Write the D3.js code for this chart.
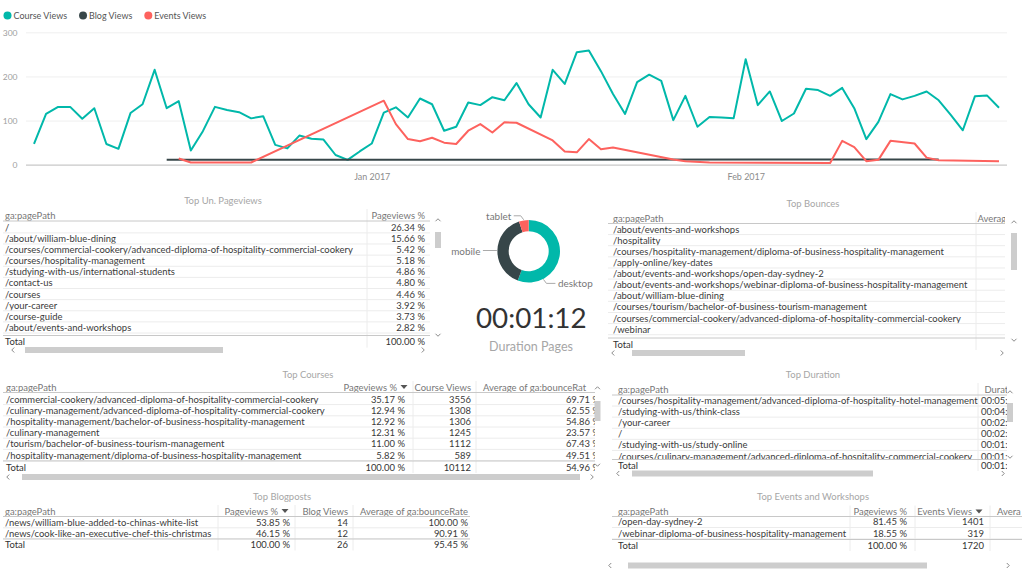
<!DOCTYPE html>
<html><head><meta charset="utf-8">
<script src="https://cdn.jsdelivr.net/npm/d3@7"></script>
<style>
html,body{margin:0;padding:0;background:#fff;overflow:hidden;}
svg{display:block;}
</style></head>
<body><svg id="c" width="1024" height="576"></svg>
<script>
// ---------------- DATA ----------------
const seriesNames = ["Course Views", "Blog Views", "Events Views"];
const seriesColors = ["#01B8AA", "#374649", "#FD625E"];
const startDate = "2016-12-04";
const courseViews = [47,115,131,131,104,128,47,36,117,137,215,128,144,32,76,131,124,119,105,110,45,37,66,59,57,22,11,
  30,
  48,118,130,107,150,137,77,86,141,135,153,146,185,137,107,215,183,255,259,212,160,115,187,204,190,101,156,
  86,108,107,105,239,135,166,99,116,172,169,156,174,128,58,97,160,148,156,166,146,113,78,155,157,129];
const blogViews = [["2016-12-15", 11], ["2017-02-17", 12]];
const eventsViews = [["2016-12-16",14],["2016-12-17",5],["2016-12-22",5],["2017-01-02",145],["2017-01-03",92],
  ["2017-01-04",58],["2017-01-05",53],["2017-01-06",61],["2017-01-07",50],["2017-01-08",47],["2017-01-09",77],
  ["2017-01-10",92],["2017-01-11",73],["2017-01-12",96],["2017-01-13",95],["2017-01-16",55],["2017-01-17",30],
  ["2017-01-18",28],["2017-01-19",58],["2017-01-20",35],["2017-01-21",39],["2017-01-26",12],["2017-01-27",8],
  ["2017-01-29",5],["2017-02-08",4],["2017-02-09",54],["2017-02-10",40],["2017-02-11",8],["2017-02-12",11],
  ["2017-02-13",54],["2017-02-15",48],["2017-02-16",16],["2017-02-17",10],["2017-02-22",8]];
const yTicks = [0, 100, 200, 300];
const xTickDates = ["2017-01-01", "2017-02-01"];

const deviceLabels = ["desktop", "mobile", "tablet"];
const deviceShare = [55.7, 39.3, 5.0];
const durationCard = "00:01:12";
const durationCardLabel = "Duration Pages";

const unPaths = ["/", "/about/william-blue-dining",
  "/courses/commercial-cookery/advanced-diploma-of-hospitality-commercial-cookery",
  "/courses/hospitality-management", "/studying-with-us/international-students", "/contact-us",
  "/courses", "/your-career", "/course-guide", "/about/events-and-workshops"];
const unPct = [26.34, 15.66, 5.42, 5.18, 4.86, 4.80, 4.46, 3.92, 3.73, 2.82];
const unTotal = 100.00;

const bouncePaths = ["/about/events-and-workshops", "/hospitality",
  "/courses/hospitality-management/diploma-of-business-hospitality-management",
  "/apply-online/key-dates", "/about/events-and-workshops/open-day-sydney-2",
  "/about/events-and-workshops/webinar-diploma-of-business-hospitality-management",
  "/about/william-blue-dining", "/courses/tourism/bachelor-of-business-tourism-management",
  "/courses/commercial-cookery/advanced-diploma-of-hospitality-commercial-cookery", "/webinar"];

const coursePaths = ["/commercial-cookery/advanced-diploma-of-hospitality-commercial-cookery",
  "/culinary-management/advanced-diploma-of-hospitality-commercial-cookery",
  "/hospitality-management/bachelor-of-business-hospitality-management",
  "/culinary-management", "/tourism/bachelor-of-business-tourism-management",
  "/hospitality-management/diploma-of-business-hospitality-management"];
const coursePct = [35.17, 12.94, 12.92, 12.31, 11.00, 5.82];
const courseViewsCol = [3556, 1308, 1306, 1245, 1112, 589];
const courseBounce = [69.71, 62.55, 54.86, 23.57, 67.43, 49.51];
const courseTotals = [100.00, 10112, 54.96];

const durationPaths = ["/courses/hospitality-management/advanced-diploma-of-hospitality-hotel-management",
  "/studying-with-us/think-class", "/your-career", "/", "/studying-with-us/study-online",
  "/courses/culinary-management/advanced-diploma-of-hospitality-commercial-cookery"];
const durationVals = ["00:05:", "00:04:", "00:02:", "00:02:", "00:01:", "00:01:"];
const durationTotal = "00:01:";

const blogPaths = ["/news/william-blue-added-to-chinas-white-list", "/news/cook-like-an-executive-chef-this-christmas"];
const blogPct = [53.85, 46.15];
const blogViewsCol = [14, 12];
const blogBounce = [100.00, 90.91];
const blogTotals = [100.00, 26, 95.45];

const eventPaths = ["/open-day-sydney-2", "/webinar-diploma-of-business-hospitality-management"];
const eventPct = [81.45, 18.55];
const eventViewsCol = [1401, 319];
const eventTotals = [100.00, 1720];

// ---------------- SETUP ----------------
const svg = d3.select("#c");
const FF = "'Segoe UI', Lato, 'Open Sans', sans-serif";
svg.attr("font-family", FF);
function measure(txt, size) {
  const t = svg.append("text").attr("font-size", size).text(txt);
  const w = t.node().getComputedTextLength(); t.remove(); return w;
}
const K = 348 / measure("/courses/commercial-cookery/advanced-diploma-of-hospitality-commercial-cookery", 10);
const fs = n => n * K;
const pct = v => d3.format(".2f")(v) + " %";

// ---------------- LINE CHART ----------------
const parse = d3.timeParse("%Y-%m-%d");
const d0 = parse(startDate);
const courseData = courseViews.map((v, i) => ({date: d3.timeDay.offset(d0, i), v}));
const blogData = blogViews.map(([d, v]) => ({date: parse(d), v}));
const eventsData = eventsViews.map(([d, v]) => ({date: parse(d), v}));

const x = d3.scaleTime().domain([d0, d3.timeDay.offset(d0, courseViews.length - 1)]).range([34, 999]);
const y = d3.scaleLinear().domain([0, 300]).range([164.7, 32.3]);

const gy = svg.append("g").attr("transform", "translate(26,0)")
  .call(d3.axisLeft(y).tickValues(yTicks).tickSize(-(1007 - 26)).tickPadding(8.5));
gy.select(".domain").remove();
gy.selectAll(".tick line").attr("stroke", d => d === 0 ? "#c8c8c8" : "#efefef").attr("stroke-width", d => d === 0 ? 1.2 : 1);
gy.selectAll(".tick text").attr("fill", "#a0a0a0").attr("font-size", fs(9)).attr("font-family", FF);

const gx = svg.append("g").attr("transform", "translate(0,165)")
  .call(d3.axisBottom(x).tickValues(xTickDates.map(parse)).tickFormat(d3.timeFormat("%b %Y")).tickSize(0).tickPadding(9));
gx.select(".domain").remove();
gx.selectAll(".tick text").attr("fill", "#8c8c8c").attr("font-size", fs(9.5)).attr("font-family", FF);

const line = d3.line().x(d => x(d.date)).y(d => y(d.v));
[courseData, blogData, eventsData].forEach((data, i) => {
  svg.append("path").datum(data).attr("d", line).attr("fill", "none")
    .attr("stroke", seriesColors[i]).attr("stroke-width", 2).attr("stroke-linejoin", "round");
});

// legend
let lx = 7.5;
seriesNames.forEach((n, i) => {
  svg.append("circle").attr("cx", lx).attr("cy", 15.5).attr("r", 4).attr("fill", seriesColors[i]);
  const t = svg.append("text").attr("x", lx + 6).attr("y", 15.5).attr("dominant-baseline", "central")
    .attr("font-size", fs(9.5)).attr("fill", "#555").text(n);
  lx = lx + 6 + t.node().getComputedTextLength() + 16;
});

// ---------------- DONUT ----------------
const cx = 528.7, cy = 251.2, R = 31.3, r0 = 20;
const pie = d3.pie().sort(null).value(d => d)(deviceShare);
const arc = d3.arc().innerRadius(r0).outerRadius(R);
const gd = svg.append("g").attr("transform", `translate(${cx},${cy})`);
gd.selectAll("path").data(pie).join("path").attr("d", arc).attr("fill", (d, i) => seriesColors[i]);
const pt = (a, rr) => [Math.sin(a) * rr, -Math.cos(a) * rr];
const labelSpec = [
  {a: pie[0].startAngle + (pie[0].endAngle - pie[0].startAngle) * 0.76, dx: 12, dy: 4, anchor: "start"},
  {a: (pie[1].startAngle + pie[1].endAngle) / 2, dx: -14, dy: 0, anchor: "end"},
  {a: (pie[2].startAngle + pie[2].endAngle) / 2, dx: -10, dy: -4, anchor: "end"}
];
labelSpec.forEach((s, i) => {
  const p0 = pt(s.a, R + 0.5);
  const p1 = [p0[0] + (s.dy === 0 ? 0 : Math.sign(s.dx) * 3), p0[1] + s.dy];
  const p2 = [p1[0] + s.dx - Math.sign(s.dx) * (s.dy === 0 ? 0 : 3), p1[1]];
  gd.append("polyline").attr("points", [p0, p1, p2].map(p => p.join(",")).join(" "))
    .attr("fill", "none").attr("stroke", "#aaa").attr("stroke-width", 1);
  gd.append("text").attr("x", p2[0] + Math.sign(s.dx) * 2.5).attr("y", p2[1]).attr("text-anchor", s.anchor)
    .attr("dominant-baseline", "central").attr("font-size", fs(10.5)).attr("fill", "#777").text(deviceLabels[i]);
});

// card
const cardT = svg.append("text").attr("x", 531.3).attr("y", 327.7).attr("text-anchor", "middle")
  .attr("fill", "#333").text(durationCard);
cardT.attr("font-size", 28 * 110.7 / measure(durationCard, 28));
const cardL = svg.append("text").attr("x", 531).attr("y", 350.5).attr("text-anchor", "middle")
  .attr("fill", "#a6a6a6").text(durationCardLabel);
cardL.attr("font-size", 12 * 84 / measure(durationCardLabel, 12));

// ---------------- TABLES ----------------
let clipN = 0;
function clipRect(x0, y0, x1, y1) {
  const id = "clp" + (clipN++);
  svg.append("clipPath").attr("id", id).append("rect").attr("x", x0).attr("y", y0).attr("width", x1 - x0).attr("height", y1 - y0);
  return `url(#${id})`;
}
function chevron(g, x, y, dir) {
  const s = 2.5;
  let p;
  if (dir === "up") p = [[x - s, y + s / 2], [x, y - s / 2], [x + s, y + s / 2]];
  if (dir === "down") p = [[x - s, y - s / 2], [x, y + s / 2], [x + s, y - s / 2]];
  if (dir === "left") p = [[x + s / 2, y - s], [x - s / 2, y], [x + s / 2, y + s]];
  if (dir === "right") p = [[x - s / 2, y - s], [x + s / 2, y], [x - s / 2, y + s]];
  g.append("polyline").attr("points", p.map(q => q.join(",")).join(" ")).attr("fill", "none")
    .attr("stroke", "#8a8a8a").attr("stroke-width", 1);
}
function drawTable(t) {
  const g = svg.append("g");
  g.append("text").attr("x", t.titleX).attr("y", t.titleY).attr("text-anchor", "middle").attr("dominant-baseline", "central")
    .attr("font-size", fs(10)).attr("fill", "#a6a6a6").text(t.title);
  const inner = g.append("g").attr("clip-path", clipRect(t.left, t.headerY - 8, t.right, t.totalY + 8));
  t.seps.forEach(sx => inner.append("line").attr("x1", sx).attr("x2", sx).attr("y1", t.headerY - 6).attr("y2", t.totalY + 6)
    .attr("stroke", "#ececec"));
  t.cols.forEach(c => {
    inner.append("text").attr("x", c.x).attr("y", t.headerY).attr("text-anchor", c.anchor)
      .attr("dominant-baseline", "central").attr("font-size", fs(10)).attr("fill", "#777").text(c.label);
    if (c.sort) {
      const tx2 = c.x + 7;
      inner.append("path").attr("d", `M${tx2 - 3.5},${t.headerY - 2} L${tx2 + 3.5},${t.headerY - 2} L${tx2},${t.headerY + 2} Z`).attr("fill", "#555");
    }
  });
  inner.append("line").attr("x1", t.left).attr("x2", t.right).attr("y1", t.headerLine).attr("y2", t.headerLine).attr("stroke", "#c8c8c8");
  const rowsG = inner.append("g").attr("clip-path", clipRect(t.left, t.headerLine, t.right, t.totalLine));
  const vxOf = c => c.vx !== undefined ? c.vx : c.x;
  const vaOf = c => c.va || c.anchor;
  t.rows.forEach((r, i) => {
    const yy = t.rowY0 + i * t.rowH;
    r.forEach((v, j) => {
      const c = t.cols[j];
      rowsG.append("text").attr("x", vxOf(c)).attr("y", yy).attr("text-anchor", vaOf(c))
        .attr("dominant-baseline", "central").attr("font-size", fs(10)).attr("fill", "#3a3a3a").text(v);
    });
    rowsG.append("line").attr("x1", t.left).attr("x2", t.right).attr("y1", yy + t.rowH / 2).attr("y2", yy + t.rowH / 2).attr("stroke", "#ececec");
  });
  inner.append("line").attr("x1", t.left).attr("x2", t.right).attr("y1", t.totalLine).attr("y2", t.totalLine).attr("stroke", "#c8c8c8");
  t.total.forEach((v, j) => {
    const c = t.cols[j];
    inner.append("text").attr("x", vxOf(c)).attr("y", t.totalY).attr("text-anchor", vaOf(c))
      .attr("dominant-baseline", "central").attr("font-size", fs(10)).attr("fill", "#333").text(v);
  });
  if (t.vs) {
    chevron(g, t.vs.x, t.vs.up, "up"); chevron(g, t.vs.x, t.vs.down, "down");
    g.append("rect").attr("x", t.vs.x - 3).attr("y", t.vs.t0).attr("width", 6).attr("height", t.vs.t1 - t.vs.t0).attr("fill", "#cdcdcd");
  }
  if (t.hs) {
    chevron(g, t.hs.l, t.hs.y, "left"); chevron(g, t.hs.r, t.hs.y, "right");
    g.append("rect").attr("x", t.hs.t0).attr("y", t.hs.y - 3).attr("width", t.hs.t1 - t.hs.t0).attr("height", 6).attr("fill", "#cdcdcd");
  }
}

drawTable({
  title: "Top Un. Pageviews", titleX: 223, titleY: 200,
  left: 3, right: 430, headerY: 215, headerLine: 221, rowY0: 227.3, rowH: 11.13, totalLine: 335.5, totalY: 341.7,
  cols: [{label: "ga:pagePath", x: 5, anchor: "start"}, {label: "Pageviews %", x: 425, anchor: "end"}],
  seps: [367],
  rows: d3.zip(unPaths, unPct.map(pct)),
  total: ["Total", pct(unTotal)],
  vs: {x: 438, up: 220, down: 335, t0: 232, t1: 248},
  hs: {y: 350, l: 13, r: 423, t0: 25, t1: 223}
});

drawTable({
  title: "Top Bounces", titleX: 813, titleY: 203,
  left: 608, right: 1005, headerY: 218, headerLine: 223.5, rowY0: 229, rowH: 11.13, totalLine: 338, totalY: 344,
  cols: [{label: "ga:pagePath", x: 613, anchor: "start"}, {label: "Averag", x: 977.5, anchor: "start"}],
  seps: [976],
  rows: bouncePaths.map(p => [p]),
  total: ["Total"],
  vs: {x: 1014, up: 222, down: 340, t0: 233, t1: 270},
  hs: {y: 353, l: 613, r: 1002, t0: 632, t1: 745}
});

drawTable({
  title: "Top Courses", titleX: 308, titleY: 374,
  left: 3, right: 595, headerY: 387, headerLine: 392.5, rowY0: 399, rowH: 11.2, totalLine: 461, totalY: 467,
  cols: [{label: "ga:pagePath", x: 6, anchor: "start"},
         {label: "Pageviews %", x: 397, vx: 405, anchor: "end", sort: true},
         {label: "Course Views", x: 471, anchor: "end"},
         {label: "Average of ga:bounceRat", x: 483, vx: 600, anchor: "start", va: "end"}],
  seps: [413, 476],
  rows: coursePaths.map((p, i) => [p, pct(coursePct[i]), String(courseViewsCol[i]), pct(courseBounce[i])]),
  total: ["Total", pct(courseTotals[0]), String(courseTotals[1]), pct(courseTotals[2])],
  vs: {x: 597.5, up: 388, down: 465, t0: 401, t1: 421},
  hs: {y: 477, l: 8, r: 592, t0: 22, t1: 580}
});

drawTable({
  title: "Top Duration", titleX: 813, titleY: 374,
  left: 612, right: 1007, headerY: 389, headerLine: 395, rowY0: 400.5, rowH: 11.1, totalLine: 459.5, totalY: 465,
  cols: [{label: "ga:pagePath", x: 618, anchor: "start"}, {label: "Durat", x: 984.5, vx: 981, anchor: "start"}],
  seps: [978],
  rows: durationPaths.map((p, i) => [p, durationVals[i]]),
  total: ["Total", durationTotal],
  vs: {x: 1010, up: 392, down: 457, t0: 403, t1: 422},
  hs: {y: 473.5, l: 618, r: 1003, t0: 632, t1: 873}
});

drawTable({
  title: "Top Blogposts", titleX: 282, titleY: 496,
  left: 3, right: 470, headerY: 511, headerLine: 516.5, rowY0: 522.3, rowH: 11, totalLine: 539, totalY: 544.5,
  cols: [{label: "ga:pagePath", x: 5, anchor: "start"},
         {label: "Pageviews %", x: 278, vx: 290, anchor: "end", sort: true},
         {label: "Blog Views", x: 348, anchor: "end"},
         {label: "Average of ga:bounceRate", x: 468, anchor: "end"}],
  seps: [218, 295, 353],
  rows: blogPaths.map((p, i) => [p, pct(blogPct[i]), String(blogViewsCol[i]), pct(blogBounce[i])]),
  total: ["Total", pct(blogTotals[0]), String(blogTotals[1]), pct(blogTotals[2])]
});

drawTable({
  title: "Top Events and Workshops", titleX: 813, titleY: 496,
  left: 612, right: 1022, headerY: 511.5, headerLine: 516.5, rowY0: 521.8, rowH: 11.4, totalLine: 539.5, totalY: 545,
  cols: [{label: "ga:pagePath", x: 618, anchor: "start"},
         {label: "Pageviews %", x: 907, anchor: "end"},
         {label: "Events Views", x: 972, vx: 984, anchor: "end", sort: true},
         {label: "Avera", x: 997, anchor: "start"}],
  seps: [850, 915, 990],
  rows: eventPaths.map((p, i) => [p, pct(eventPct[i]), String(eventViewsCol[i])]),
  total: ["Total", pct(eventTotals[0]), String(eventTotals[1])],
  hs: {y: 565.5, l: 610, r: 1008, t0: 628, t1: 927}
});
</script>
</body></html>
